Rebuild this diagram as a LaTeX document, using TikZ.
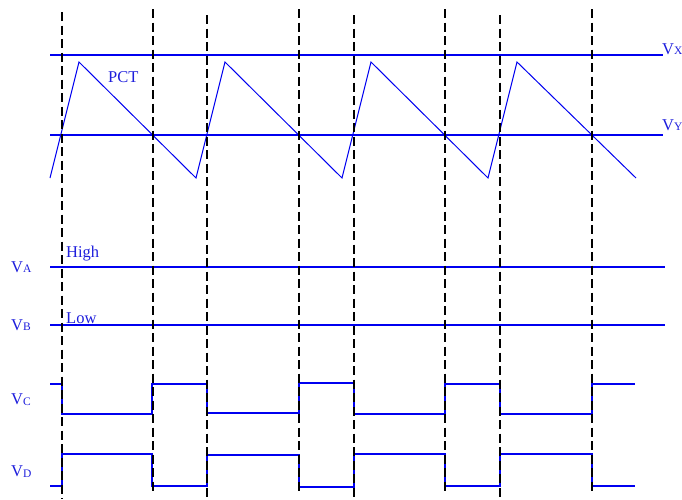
\documentclass[tikz,border=0pt]{standalone}
\usepackage{fontspec}
\setmainfont{Liberation Serif}
\definecolor{sigblue}{RGB}{0,0,240}
\definecolor{txtblue}{RGB}{30,30,220}
\newcommand{\lbl}[2]{V\raisebox{-0.6pt}{\fontsize{11.5}{12}\selectfont #2}}
\begin{document}
\begin{tikzpicture}[x=1pt,y=-1pt,
  reflevel/.style={draw=sigblue,line width=1.3pt},
  wave/.style={draw=sigblue,line width=1pt,line join=miter},
  pulse/.style={draw=sigblue,line width=1.5pt},
  guide/.style={draw=black,line width=2pt,dash pattern=on 9pt off 4.5pt},
  txt/.style={text=txtblue,inner sep=0pt,anchor=base west,font=\fontsize{16.5}{18}\selectfont}]
\useasboundingbox (0,0) rectangle (682,499);
% reference levels
\draw[reflevel] (50,55) -- (663,55);
\draw[reflevel] (50,135) -- (663,135);
\draw[reflevel] (50,267) -- (665,267);
\draw[reflevel] (50,325) -- (665,325);
% PCT sawtooth
\draw[wave] (50,178) -- (79,62) -- (196,178) -- (225,62) -- (342,178) -- (371,62) -- (488,178) -- (517,62) -- (636,178);
% VC
\draw[pulse] (50,384) -- (62,384) -- (62,414) -- (152,414) -- (152,384) -- (207,384) -- (207,413) -- (299,413) -- (299,383) -- (354,383) -- (354,414) -- (445,414) -- (445,384) -- (500,384) -- (500,414) -- (592,414) -- (592,384) -- (635,384);
% VD
\draw[pulse] (50,486) -- (62,486) -- (62,454) -- (152,454) -- (152,486) -- (207,486) -- (207,455) -- (299,455) -- (299,487) -- (354,487) -- (354,454) -- (445,454) -- (445,486) -- (500,486) -- (500,454) -- (592,454) -- (592,486) -- (635,486);
% dashed guides
\draw[guide] (61.5,12) -- (61.5,499);
\draw[guide] (152.5,9) -- (152.5,492);
\draw[guide] (207,15) -- (207,498);
\draw[guide] (299,9) -- (299,492);
\draw[guide] (354,15) -- (354,498);
\draw[guide] (445,9) -- (445,492);
\draw[guide] (500,15) -- (500,498);
\draw[guide] (592,9) -- (592,492);
% labels
\node[txt] (vx) at (662,54) {\lbl{V}{X}};
\node[txt] (vy) at (662,130) {\lbl{V}{Y}};
\node[txt] (pct) at (108,82) {PCT};
\node[txt] (va) at (11,272) {\lbl{V}{A}};
\node[txt] (vb) at (11,330) {\lbl{V}{B}};
\node[txt] (hi) at (66,257) {High};
\node[txt] (lo) at (66,323) {Low};
\node[txt] (vc) at (11,404.5) {\lbl{V}{C}};
\node[txt] (vd) at (11,476.5) {\lbl{V}{D}};
\end{tikzpicture}
\end{document}
